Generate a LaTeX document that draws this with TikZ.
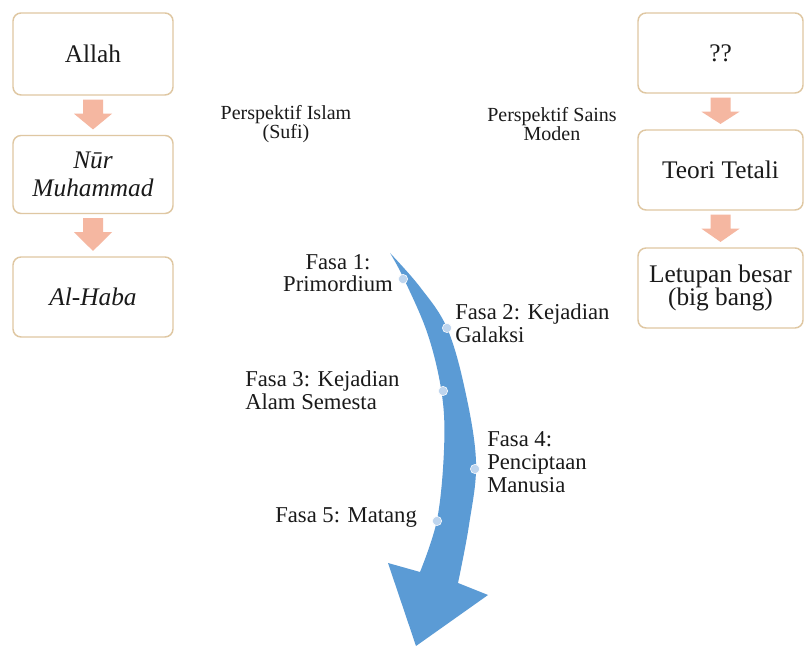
\documentclass[tikz,border=0pt]{standalone}
\usepackage{fontspec}
\setmainfont{Liberation Serif}
\usetikzlibrary{calc}
\definecolor{boxc}{HTML}{DFC7A2}
\definecolor{pinkc}{HTML}{F5B7A1}
\definecolor{bluec}{HTML}{5B9BD5}
\definecolor{dotc}{HTML}{BED5EE}
\definecolor{txtc}{HTML}{1A1A1A}
\newcommand\pinkarr[2]{%
  \fill[pinkc] ([xshift=-7.5pt,yshift=-3pt]#1.south)
    -- ([xshift=7.5pt,yshift=-3pt]#1.south)
    -- ([xshift=7.5pt,yshift=-13.5pt]#1.south)
    -- ([xshift=14.25pt,yshift=-13.5pt]#1.south)
    -- ([yshift=4pt]#2.north)
    -- ([xshift=-14.25pt,yshift=-13.5pt]#1.south)
    -- ([xshift=-7.5pt,yshift=-13.5pt]#1.south) -- cycle;}
\tikzset{
  box/.style={draw=boxc, line width=1.1pt, rounded corners=6pt, fill=white,
    align=center, text=txtc, inner sep=0pt},
  boxfont/.style={font=\fontsize{19}{21}\selectfont},
  lab/.style={text=txtc, inner sep=0pt, font=\fontsize{17}{17}\selectfont},
  persp/.style={text=txtc, inner sep=0pt, align=center, font=\fontsize{15}{13.5}\selectfont},
  bdot/.style={circle, fill=dotc, draw=white, line width=0.4pt, inner sep=0pt, minimum size=7pt}
}
\begin{document}
\begin{tikzpicture}[x=0.75pt,y=-0.75pt]
\useasboundingbox (0,0) rectangle (804,648);
\fill[white] (0,0) rectangle (804,648);

% left column
\node[box, boxfont, minimum width=120pt, minimum height=61.5pt] (L1) at (93,54) {Allah};
\node[box, font=\itshape\fontsize{19}{21}\selectfont, minimum width=120pt, minimum height=58.5pt] (L2) at (93,174.5) {Nūr\\Muhammad};
\node[box, font=\itshape\fontsize{19}{21}\selectfont, minimum width=120pt, minimum height=60pt] (L3) at (93,297) {Al-Haba};
\pinkarr{L1}{L2}
\pinkarr{L2}{L3}

% right column
\node[box, boxfont, minimum width=123.75pt, minimum height=60pt] (R1) at (720.5,53) {??};
\node[box, boxfont, minimum width=123.75pt, minimum height=60pt] (R2) at (720.5,170) {Teori Tetali};
\node[box, font=\fontsize{19}{17.5}\selectfont, minimum width=123.75pt, minimum height=60pt] (R3) at (720.5,288) {Letupan besar\\(big bang)};
\pinkarr{R1}{R2}
\pinkarr{R2}{R3}

% headings
\node[persp] (P1) at (286,124) {Perspektif Islam\\(Sufi)};
\node[persp] (P2) at (552,124) {Perspektif Sains\\Moden};

% blue curved arrow
\fill[bluec] plot[smooth, tension=0.6] coordinates {(390,253) (404,279) (428,335) (442,395) (444,450) (437,520) (420,572)}
  -- (388,563) -- (416,646) -- (488,595)
  -- plot[smooth, tension=0.6] coordinates {(458,583) (469,525) (476,462) (465,390) (447,328) (420,287) (390,253)} -- cycle;

% dots
\node[bdot] (d1) at (403,279) {};
\node[bdot] (d2) at (447,328) {};
\node[bdot] (d3) at (443,391) {};
\node[bdot] (d4) at (475,469) {};
\node[bdot] (d5) at (437,521) {};

% labels
\node[lab, align=center] (f1) at (338,273) {Fasa 1:\\Primordium};
\node[lab, align=left, anchor=west] (f2) at (455,323) {Fasa 2: Kejadian\\Galaksi};
\node[lab, align=left, anchor=west] (f3) at (245,390) {Fasa 3: Kejadian\\Alam Semesta};
\node[lab, align=left, anchor=west] (f4) at (487,462) {Fasa 4:\\Penciptaan\\Manusia};
\node[lab, align=left, anchor=west] (f5) at (275,518) {Fasa 5: Matang};
\end{tikzpicture}
\end{document}
